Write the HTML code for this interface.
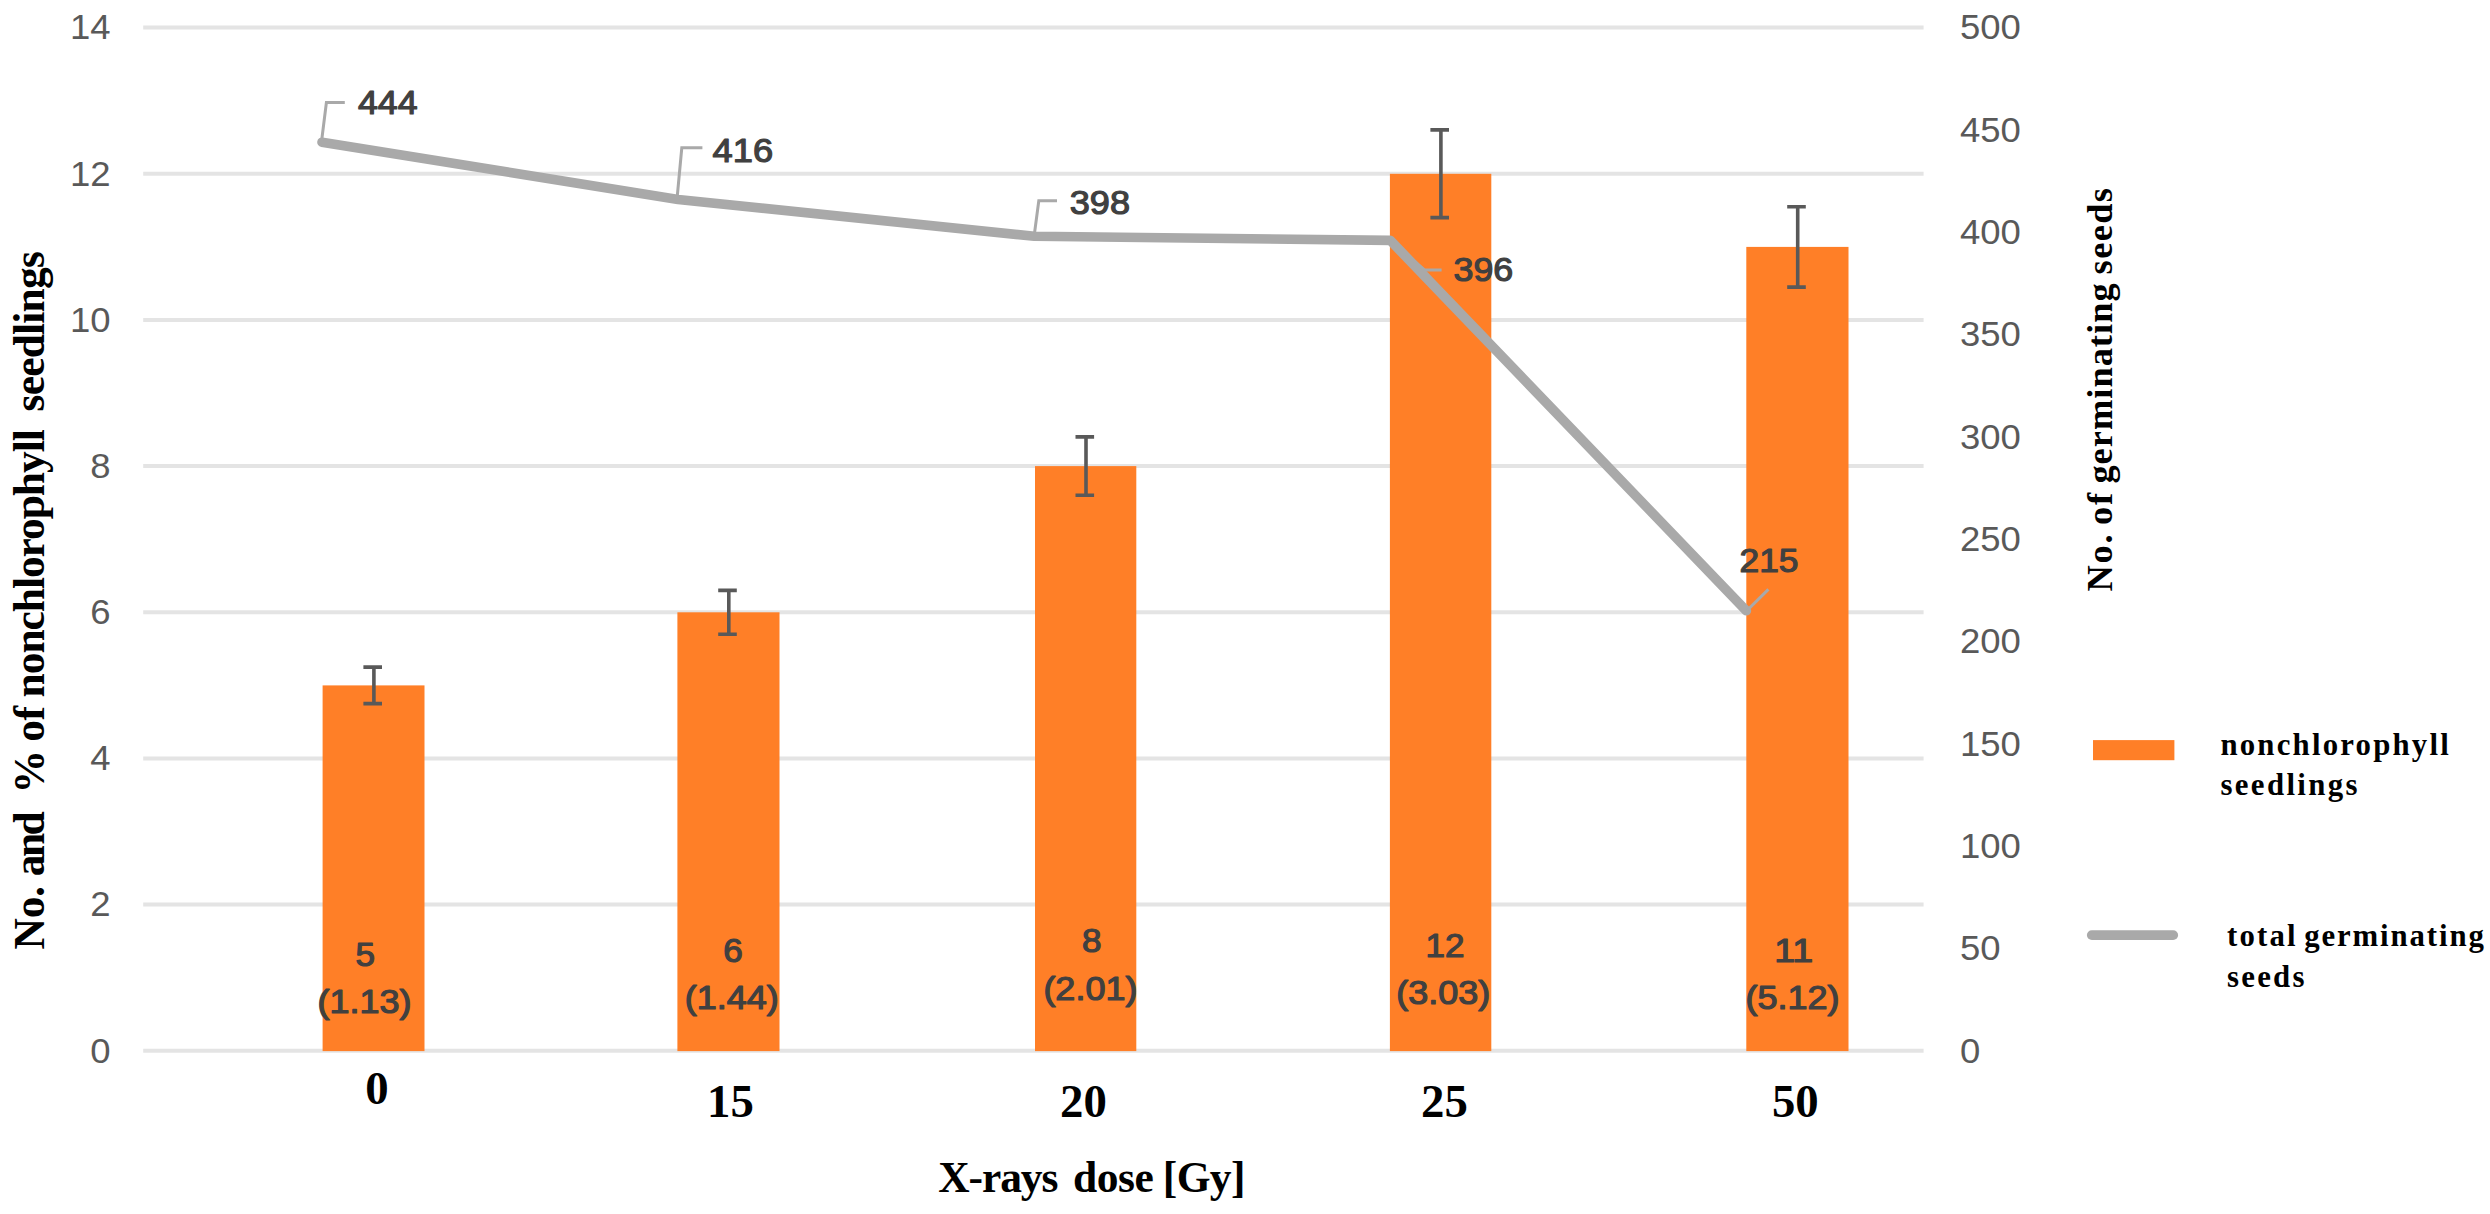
<!DOCTYPE html>
<html lang="en"><head><meta charset="utf-8"><title>X-rays dose chart</title>
<style>html,body{margin:0;padding:0;background:#fff;}body{width:2490px;height:1214px;overflow:hidden;}svg{display:block;}
.ax{font-family:"Liberation Sans", "DejaVu Sans", sans-serif;font-size:34.8px;fill:#595959;}
.dl{font-family:"Liberation Sans", "DejaVu Sans", sans-serif;font-size:33.6px;fill:#404040;stroke:#404040;stroke-width:1.2px;stroke-linejoin:round;}
.bl{font-family:"Liberation Sans", "DejaVu Sans", sans-serif;font-size:32.4px;fill:#404040;stroke:#404040;stroke-width:1.2px;stroke-linejoin:round;}
.cat{font-family:"Liberation Serif", "DejaVu Serif", serif;font-size:46.8px;font-weight:bold;fill:#000;}
.ttl{font-family:"Liberation Serif", "DejaVu Serif", serif;font-size:43.5px;font-weight:bold;fill:#000;}
.ttl2{font-family:"Liberation Serif", "DejaVu Serif", serif;font-size:36.4px;font-weight:bold;fill:#000;}
.lg{font-family:"Liberation Serif", "DejaVu Serif", serif;font-size:30.8px;font-weight:bold;fill:#000;}
</style></head><body>
<svg width="2490" height="1214" viewBox="0 0 2490 1214">
<rect x="0" y="0" width="2490" height="1214" fill="#ffffff"/>
<g stroke="#e4e4e4" stroke-width="4">
<line x1="143.2" y1="1050.8" x2="1923.6" y2="1050.8"/>
<line x1="143.2" y1="904.6" x2="1923.6" y2="904.6"/>
<line x1="143.2" y1="758.5" x2="1923.6" y2="758.5"/>
<line x1="143.2" y1="612.3" x2="1923.6" y2="612.3"/>
<line x1="143.2" y1="466.1" x2="1923.6" y2="466.1"/>
<line x1="143.2" y1="319.9" x2="1923.6" y2="319.9"/>
<line x1="143.2" y1="173.8" x2="1923.6" y2="173.8"/>
<line x1="143.2" y1="27.6" x2="1923.6" y2="27.6"/>
</g>
<g fill="#ff7f27">
<rect x="322.6" y="685.4" width="101.9" height="365.7"/>
<rect x="677.4" y="612.3" width="102.1" height="438.8"/>
<rect x="1035.0" y="466.1" width="101.3" height="585.0"/>
<rect x="1389.9" y="173.8" width="101.4" height="877.3"/>
<rect x="1746.3" y="246.9" width="102.2" height="804.2"/>
</g>
<g stroke="#595959" stroke-width="3.6" fill="none">
<path d="M373.9 667.1V703.6M363.4 667.1h18.6M363.4 703.6h18.6"/>
<path d="M728.8 590.4V634.2M718.2 590.4h18.6M718.2 634.2h18.6"/>
<path d="M1086.0 436.9V495.3M1075.5 436.9h18.6M1075.5 495.3h18.6"/>
<path d="M1440.9 129.9V217.6M1430.4 129.9h18.6M1430.4 217.6h18.6"/>
<path d="M1797.7 206.7V287.1M1787.2 206.7h18.6M1787.2 287.1h18.6"/>
</g>
<polyline points="322.0,142.2 678.1,199.5 1034.2,236.3 1390.3,240.4 1746.4,610.8" fill="none" stroke="#a9a9a9" stroke-width="9.6" stroke-linecap="round" stroke-linejoin="round"/>
<g stroke="#a9a9a9" stroke-width="3" fill="none" stroke-linejoin="miter">
<path d="M321.6 141L326.4 102.6H344.8"/>
<path d="M677.2 197L681.8 147.8H702.4"/>
<path d="M1034.4 234L1038.8 200.8H1057"/>
<path d="M1391 241L1424.5 270H1441.6"/>
<path d="M1747 610.5L1768.4 589.4"/>
</g>
<text class="ax" x="110.6" y="1062.6" text-anchor="end" textLength="20.3" lengthAdjust="spacingAndGlyphs">0</text>
<text class="ax" x="110.6" y="916.4" text-anchor="end" textLength="20.3" lengthAdjust="spacingAndGlyphs">2</text>
<text class="ax" x="110.6" y="770.3" text-anchor="end" textLength="20.3" lengthAdjust="spacingAndGlyphs">4</text>
<text class="ax" x="110.6" y="624.1" text-anchor="end" textLength="20.3" lengthAdjust="spacingAndGlyphs">6</text>
<text class="ax" x="110.6" y="477.9" text-anchor="end" textLength="20.3" lengthAdjust="spacingAndGlyphs">8</text>
<text class="ax" x="110.6" y="331.7" text-anchor="end" textLength="40.6" lengthAdjust="spacingAndGlyphs">10</text>
<text class="ax" x="110.6" y="185.6" text-anchor="end" textLength="40.6" lengthAdjust="spacingAndGlyphs">12</text>
<text class="ax" x="110.6" y="39.4" text-anchor="end" textLength="40.6" lengthAdjust="spacingAndGlyphs">14</text>
<text class="ax" x="1960" y="1062.6" textLength="20.3" lengthAdjust="spacingAndGlyphs">0</text>
<text class="ax" x="1960" y="960.3" textLength="40.6" lengthAdjust="spacingAndGlyphs">50</text>
<text class="ax" x="1960" y="858.0" textLength="60.9" lengthAdjust="spacingAndGlyphs">100</text>
<text class="ax" x="1960" y="755.6" textLength="60.9" lengthAdjust="spacingAndGlyphs">150</text>
<text class="ax" x="1960" y="653.3" textLength="60.9" lengthAdjust="spacingAndGlyphs">200</text>
<text class="ax" x="1960" y="551.0" textLength="60.9" lengthAdjust="spacingAndGlyphs">250</text>
<text class="ax" x="1960" y="448.7" textLength="60.9" lengthAdjust="spacingAndGlyphs">300</text>
<text class="ax" x="1960" y="346.4" textLength="60.9" lengthAdjust="spacingAndGlyphs">350</text>
<text class="ax" x="1960" y="244.0" textLength="60.9" lengthAdjust="spacingAndGlyphs">400</text>
<text class="ax" x="1960" y="141.7" textLength="60.9" lengthAdjust="spacingAndGlyphs">450</text>
<text class="ax" x="1960" y="39.4" textLength="60.9" lengthAdjust="spacingAndGlyphs">500</text>
<text class="dl" x="358.0" y="114.2" textLength="59.6" lengthAdjust="spacingAndGlyphs">444</text>
<text class="dl" x="712.6" y="162.0" textLength="60.6" lengthAdjust="spacingAndGlyphs">416</text>
<text class="dl" x="1069.8" y="214.3" textLength="60.2" lengthAdjust="spacingAndGlyphs">398</text>
<text class="dl" x="1453.5" y="281.4" textLength="59.8" lengthAdjust="spacingAndGlyphs">396</text>
<text class="dl" x="1739.5" y="571.8" textLength="59.0" lengthAdjust="spacingAndGlyphs">215</text>
<text class="bl"><tspan x="355.6" y="966.2" textLength="19.5" lengthAdjust="spacingAndGlyphs">5</tspan> <tspan x="317.6" y="1013.0" textLength="94" lengthAdjust="spacingAndGlyphs">(1.13)</tspan></text>
<text class="bl"><tspan x="723.2" y="961.7" textLength="19.5" lengthAdjust="spacingAndGlyphs">6</tspan> <tspan x="684.8" y="1009.0" textLength="94" lengthAdjust="spacingAndGlyphs">(1.44)</tspan></text>
<text class="bl"><tspan x="1082.0" y="952.2" textLength="19.5" lengthAdjust="spacingAndGlyphs">8</tspan> <tspan x="1043.4" y="999.5" textLength="94" lengthAdjust="spacingAndGlyphs">(2.01)</tspan></text>
<text class="bl"><tspan x="1425.5" y="956.7" textLength="39.0" lengthAdjust="spacingAndGlyphs">12</tspan> <tspan x="1396.2" y="1003.5" textLength="94" lengthAdjust="spacingAndGlyphs">(3.03)</tspan></text>
<text class="bl"><tspan x="1774.2" y="962.2" textLength="39.0" lengthAdjust="spacingAndGlyphs">11</tspan> <tspan x="1745.5" y="1009.0" textLength="94" lengthAdjust="spacingAndGlyphs">(5.12)</tspan></text>
<text class="cat" x="376.9" y="1104.0" text-anchor="middle">0</text>
<text class="cat" x="730.4" y="1117.0" text-anchor="middle">15</text>
<text class="cat" x="1083.4" y="1116.6" text-anchor="middle">20</text>
<text class="cat" x="1444.5" y="1116.6" text-anchor="middle">25</text>
<text class="cat" x="1795.3" y="1116.6" text-anchor="middle">50</text>
<text class="ttl"><tspan x="938.2" y="1192.2" textLength="120.2" lengthAdjust="spacing">X-rays</tspan> <tspan x="1073.0" y="1192.2" textLength="80.8" lengthAdjust="spacing">dose</tspan> <tspan x="1162.8" y="1192.2" textLength="82.6" lengthAdjust="spacing">[Gy]</tspan></text>
<text class="ttl" transform="translate(43.6 949.4) rotate(-90)"><tspan x="0.0" y="0" textLength="63.4" lengthAdjust="spacing">No.</tspan> <tspan x="73.2" y="0" textLength="65.0" lengthAdjust="spacing">and</tspan> <tspan x="156.0" y="0" textLength="38.0" lengthAdjust="spacing">%</tspan> <tspan x="207.7" y="0" textLength="35.6" lengthAdjust="spacing">of</tspan> <tspan x="252.0" y="0" textLength="268.2" lengthAdjust="spacing">nonchlorophyll</tspan> <tspan x="537.9" y="0" textLength="160.4" lengthAdjust="spacing">seedlings</tspan></text>
<text class="ttl2" transform="translate(2111.8 591.4) rotate(-90)"><tspan x="0.0" y="0" textLength="57.0" lengthAdjust="spacing">No.</tspan> <tspan x="66.5" y="0" textLength="32.0" lengthAdjust="spacing">of</tspan> <tspan x="107.8" y="0" textLength="200.2" lengthAdjust="spacing">germinating</tspan> <tspan x="317.0" y="0" textLength="86.4" lengthAdjust="spacing">seeds</tspan></text>
<rect x="2093" y="740.1" width="81.4" height="20.1" fill="#ff7f27"/>
<text class="lg"><tspan x="2220.4" y="754.7" textLength="228.4" lengthAdjust="spacing">nonchlorophyll</tspan> <tspan x="2220.4" y="795.4" textLength="137.2" lengthAdjust="spacing">seedlings</tspan></text>
<line x1="2091.8" y1="935.1" x2="2173.2" y2="935.1" stroke="#a9a9a9" stroke-width="9.8" stroke-linecap="round"/>
<text class="lg"><tspan x="2227.0" y="945.8" textLength="68.5" lengthAdjust="spacing">total</tspan> <tspan x="2304.2" y="945.8" textLength="179.6" lengthAdjust="spacing">germinating</tspan> <tspan x="2227.0" y="987.1" textLength="77.4" lengthAdjust="spacing">seeds</tspan></text>
</svg></body></html>
